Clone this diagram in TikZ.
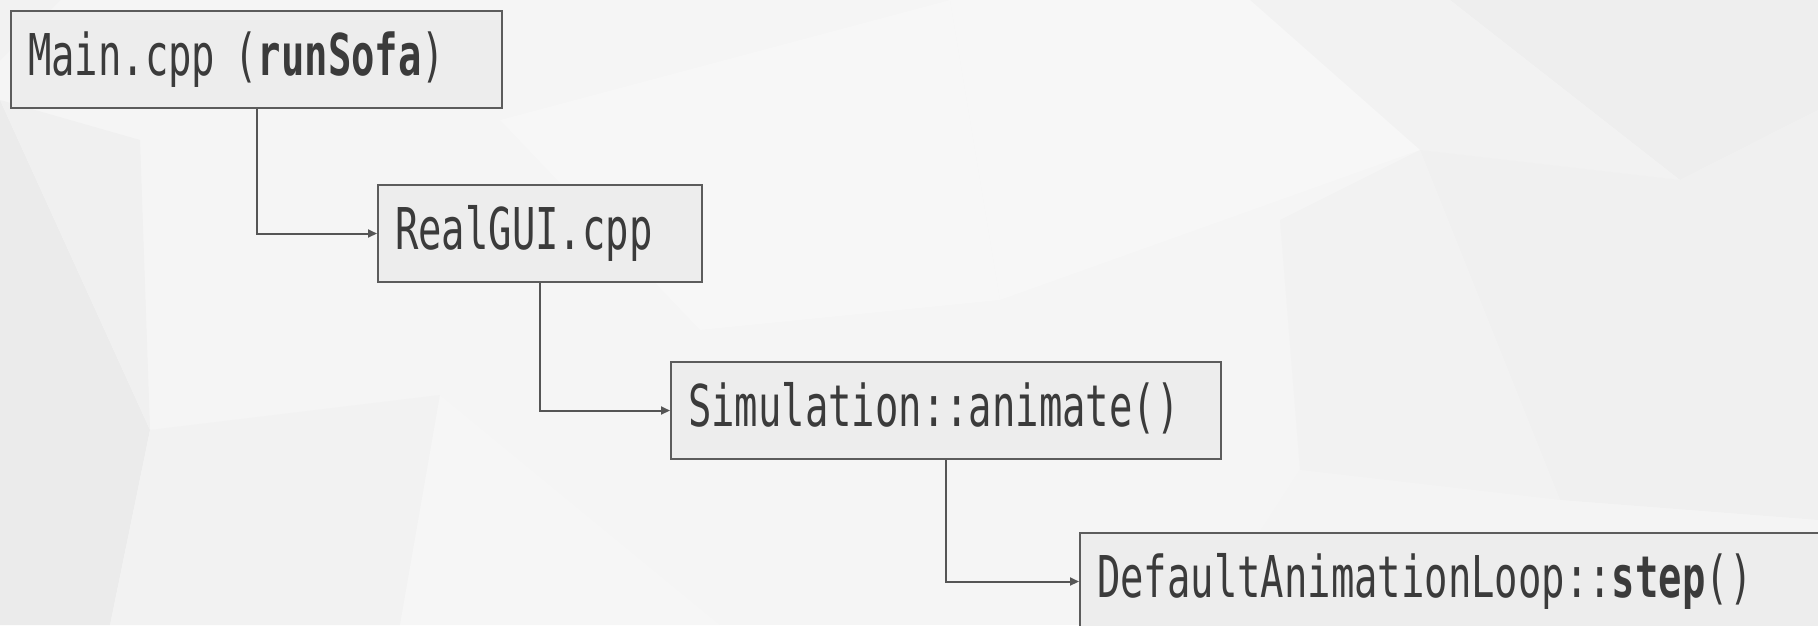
\documentclass[tikz,border=0pt]{standalone}
\usepackage{fontspec}
\newfontfamily\codefont[FakeStretch=0.675]{DejaVu Sans Mono}
\usetikzlibrary{arrows.meta}
\definecolor{bgbase}{HTML}{F5F5F5}
\definecolor{boxfill}{HTML}{EDEDED}
\definecolor{boxline}{HTML}{5C5C5C}
\definecolor{linkline}{HTML}{555555}
\definecolor{codetext}{HTML}{3B3B3B}
\tikzset{
  callbox/.style={draw=boxline, line width=2pt, fill=boxfill, anchor=north west,
    minimum height=97pt, inner xsep=17pt, inner ysep=0pt,
    text height=42pt, text depth=11pt, align=left, text=codetext,
    font=\codefont\fontsize{57.6pt}{60pt}\selectfont},
  link/.style={draw=linkline, line width=2pt, -{Triangle[length=9pt,width=8pt]}},
  facet/.style={draw=none}
}
\begin{document}
\begin{tikzpicture}[x=1pt,y=-1pt]
  \useasboundingbox (0,0) rectangle (1818,625);
  \clip (0,0) rectangle (1818,625);
  % faceted backdrop
  \fill[bgbase] (0,0) rectangle (1818,625);
  \fill[facet, fill=black!8] (0,100) -- (150,430) -- (110,625) -- (0,625) -- cycle;
  \fill[facet, fill=black!6] (0,100) -- (140,140) -- (150,430) -- cycle;
  \fill[facet, fill=black!5] (0,0) -- (60,0) -- (0,60) -- cycle;
  \fill[facet, fill=black!5] (150,430) -- (440,395) -- (400,625) -- (110,625) -- cycle;
  \fill[facet, fill=black!3.5] (440,395) -- (720,625) -- (400,625) -- cycle;
  \fill[facet, fill=black!6.5] (1450,0) -- (1818,0) -- (1818,110) -- (1680,180) -- cycle;
  \fill[facet, fill=black!5] (1250,0) -- (1450,0) -- (1680,180) -- (1420,150) -- cycle;
  \fill[facet, fill=black!6] (1420,150) -- (1680,180) -- (1818,110) -- (1818,520) -- (1560,500) -- cycle;
  \fill[facet, fill=black!5] (1280,220) -- (1420,150) -- (1560,500) -- (1300,470) -- cycle;
  \fill[facet, fill=black!3] (950,0) -- (1250,0) -- (1420,150) -- (1000,300) -- cycle;
  \fill[facet, fill=black!4.5] (1300,470) -- (1560,500) -- (1818,520) -- (1818,625) -- (1200,625) -- cycle;
  \fill[facet, fill=black!3] (500,120) -- (950,0) -- (1000,300) -- (700,330) -- cycle;

  % call chain
  \node[callbox, minimum width=491pt, text width=457pt] (main) at (10,10)
    {Main.cpp (\textbf{runSofa})};
  \node[callbox, minimum width=324pt, text width=290pt] (gui) at (377,184)
    {RealGUI.cpp};
  \node[callbox, minimum width=550pt, text width=516pt] (sim) at (670,361)
    {Simulation::animate()};
  \node[callbox, minimum width=830pt, text width=796pt] (loop) at (1079,532)
    {DefaultAnimationLoop::\textbf{step}()};

  \draw[link] (main.south) |- (gui.west);
  \draw[link] (gui.south) |- (sim.west);
  \draw[link] (sim.south) |- (loop.west);
\end{tikzpicture}
\end{document}
